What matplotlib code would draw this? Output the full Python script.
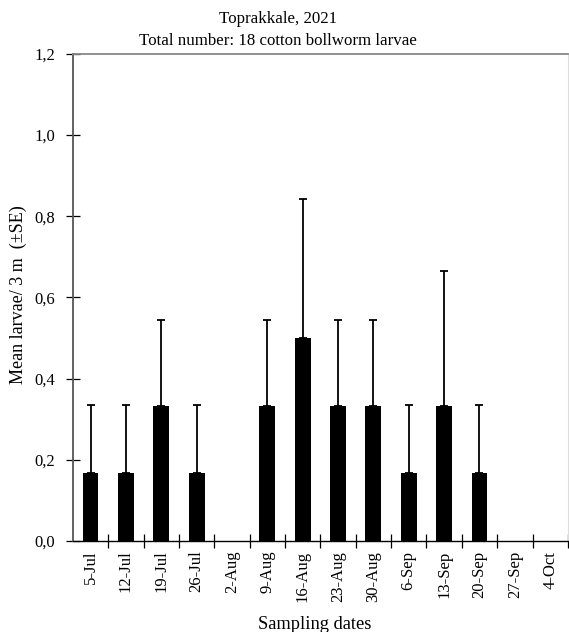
import numpy as np
import matplotlib
matplotlib.use("Agg")
import matplotlib.pyplot as plt

# sampling dates and mean larvae per 3 m with standard errors
dates = ["5-Jul", "12-Jul", "19-Jul", "26-Jul", "2-Aug", "9-Aug", "16-Aug",
         "23-Aug", "30-Aug", "6-Sep", "13-Sep", "20-Sep", "27-Sep", "4-Oct"]
means = [0.167, 0.167, 0.333, 0.167, 0.0, 0.333, 0.5,
         0.333, 0.333, 0.167, 0.333, 0.167, 0.0, 0.0]
se = [0.167, 0.167, 0.211, 0.167, 0.0, 0.211, 0.342,
      0.211, 0.211, 0.167, 0.333, 0.167, 0.0, 0.0]
yticks = [0.0, 0.2, 0.4, 0.6, 0.8, 1.0, 1.2]

plt.rcParams['font.family'] = ['Liberation Serif', 'DejaVu Serif']

fig = plt.figure(figsize=(5.69, 6.32), dpi=100)
ax = fig.add_axes([0.128, 0.144, 0.870, 0.771])

x = np.arange(len(dates))
ax.bar(x, means, width=0.45, color="black")

# error bars only where there is something to show (upper side only)
m = np.array(means)
s = np.array(se)
keep = s > 0
ax.errorbar(x[keep], m[keep], yerr=[np.zeros(keep.sum()), s[keep]],
            fmt="none", ecolor="black", elinewidth=1.3, capsize=3, capthick=1.3)

ax.set_xlim(-0.5, len(dates) - 0.5)
ax.set_ylim(0, 1.2)
ax.set_yticks(yticks)
ax.set_yticklabels([f"{v:.1f}".replace(".", ",") for v in yticks], fontsize=12)

# category labels in the middle, ticks on the boundaries
ax.set_xticks(x)
ax.set_xticklabels(dates, rotation=90, fontsize=12)
ax.tick_params(axis="x", which="major", length=0, pad=7)
ax.set_xticks(np.arange(len(dates)) + 0.5, minor=True)
ax.tick_params(axis="x", which="minor", direction="inout", length=10, width=0.9)
ax.tick_params(axis="y", direction="inout", length=10, width=0.9, pad=8)

ax.spines["left"].set_color("#555555")
ax.spines["left"].set_linewidth(1.3)
ax.spines["bottom"].set_color("black")
ax.spines["bottom"].set_linewidth(1.0)
ax.spines["top"].set_color("#888888")
ax.spines["top"].set_linewidth(1.3)
ax.spines["right"].set_color("#dddddd")

ax.set_ylabel("Mean larvae/ 3 m  (\u00b1SE)", fontsize=13)
ax.yaxis.set_label_coords(-0.093, 0.505)
ax.set_xlabel("Sampling dates", fontsize=13.3)
ax.xaxis.set_label_coords(0.488, -0.153)
ax.set_title("Toprakkale, 2021\nTotal number: 18 cotton bollworm larvae",
             fontsize=12.2, pad=6, linespacing=1.55, x=0.415)

fig.savefig("out.png", dpi=100)
